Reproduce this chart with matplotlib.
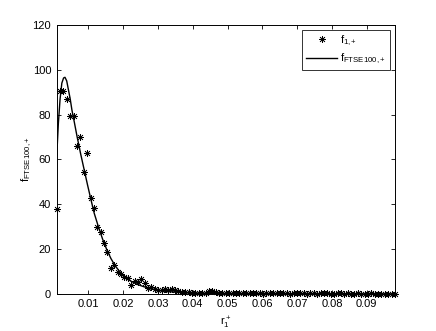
import matplotlib
matplotlib.use("Agg")
import matplotlib.pyplot as plt

plt.rcParams['font.family'] = ['Liberation Sans', 'DejaVu Sans']
plt.rcParams['mathtext.fontset'] = 'custom'
plt.rcParams['mathtext.rm'] = 'Liberation Sans'
plt.rcParams['mathtext.it'] = 'Liberation Sans'
plt.rcParams['mathtext.default'] = 'rm'

# empirical density points (bin centres)
r_bins = [0.00092, 0.00189, 0.00286, 0.00384, 0.00481, 0.00578, 0.00675, 0.00772, 0.00870, 0.00967,
          0.01064, 0.01161, 0.01258, 0.01356, 0.01453, 0.01550, 0.01647, 0.01744, 0.01842, 0.01939,
          0.02036, 0.02133, 0.02230, 0.02328, 0.02425, 0.02522, 0.02619, 0.02716, 0.02814, 0.02911,
          0.03008, 0.03105, 0.03202, 0.03300, 0.03397, 0.03494, 0.03591, 0.03688, 0.03786, 0.03883,
          0.03980, 0.04077, 0.04174, 0.04272, 0.04369, 0.04466, 0.04563, 0.04660, 0.04758, 0.04855,
          0.04952, 0.05049, 0.05146, 0.05244, 0.05341, 0.05438, 0.05535, 0.05632, 0.05730, 0.05827,
          0.05924, 0.06021, 0.06118, 0.06216, 0.06313, 0.06410, 0.06507, 0.06604, 0.06702, 0.06799,
          0.06896, 0.06993, 0.07090, 0.07188, 0.07285, 0.07382, 0.07479, 0.07576, 0.07674, 0.07771,
          0.07868, 0.07965, 0.08062, 0.08160, 0.08257, 0.08354, 0.08451, 0.08548, 0.08646, 0.08743,
          0.08840, 0.08937, 0.09034, 0.09132, 0.09229, 0.09326, 0.09423, 0.09520, 0.09618, 0.09715,
          0.09812]

f1_vals = [37.7, 90.6, 90.6, 86.9, 79.5, 79.5, 66.1, 70.2, 54.4, 62.8,
           42.6, 38.2, 30.0, 27.8, 22.9, 18.9, 11.5, 12.9, 10.0, 9.0,
           7.5, 7.0, 3.8, 5.8, 5.5, 6.8, 4.8, 2.6, 3.3, 2.1,
           1.8, 1.6, 2.4, 1.8, 2.0, 1.7, 1.2, 1.0, 0.9, 0.8,
           0.6, 0.5, 0.3, 0.6, 0.4, 1.2, 1.5, 0.8, 0.4, 0.3,
           0.5, 0.2, 0.4, 0.6, 0.3, 0.2, 0.4, 0.3, 0.5, 0.2,
           0.3, 0.1, 0.4, 0.2, 0.3, 0.2, 0.5, 0.6, 0.2, 0.1,
           0.3, 0.2, 0.2, 0.4, 0.1, 0.3, 0.2, 0.1, 0.2, 0.3,
           0.2, 0.1, 0.1, 0.2, 0.3, 0.1, 0.2, 0.1, 0.1, 0.2,
           0.1, 0.0, 0.1, 0.2, 0.1, 0.1, 0.0, 0.1, 0.1, 0.0,
           0.1]

# fitted density curve
fit_r = [0.00092, 0.0014, 0.0019, 0.0024, 0.0029, 0.0033, 0.0038, 0.0043, 0.0048, 0.0053,
         0.0060, 0.0068, 0.0078, 0.0088, 0.0098, 0.0107, 0.0117, 0.0129, 0.0141, 0.0153,
         0.0165, 0.0177, 0.0190, 0.0205, 0.0220, 0.0240, 0.0260, 0.0280, 0.0300, 0.0325,
         0.0350, 0.0380, 0.0420, 0.0470, 0.0550, 0.0650, 0.0800, 0.09812]
fit_f = [61.0, 76.0, 87.0, 94.0, 96.3, 96.6, 95.0, 91.0, 87.0, 82.0,
         76.5, 70.0, 62.5, 55.5, 48.5, 42.5, 36.0, 30.0, 24.5, 19.8,
         15.8, 12.6, 10.0, 7.6, 5.9, 4.3, 3.2, 2.3, 1.6, 1.1,
         0.8, 0.5, 0.3, 0.15, 0.06, 0.02, 0.0, 0.0]

x_ticks = [0.01, 0.02, 0.03, 0.04, 0.05, 0.06, 0.07, 0.08, 0.09]
x_ticklabels = ['0.01', '0.02', '0.03', '0.04', '0.05', '0.06', '0.07', '0.08', '0.09']
y_ticks = [0, 20, 40, 60, 80, 100, 120]

fig = plt.figure(figsize=(4.36, 3.31), dpi=100)
ax = fig.add_axes([0.13, 0.112, 0.776, 0.813])

ax.plot(r_bins, f1_vals, linestyle='none', marker=(8, 2, 0), markersize=5,
        markeredgewidth=0.5, color='black', label=r'$f_{1{,}+}$', clip_on=False, zorder=3)
ax.plot(fit_r, fit_f, color='black', linewidth=1.0, label=r'$f_{FTSE100{,}+}$', zorder=2)

ax.set_xlim(r_bins[0], r_bins[-1])
ax.set_ylim(0, 120)
ax.set_xticks(x_ticks)
ax.set_xticklabels(x_ticklabels)
ax.set_yticks(y_ticks)
ax.tick_params(direction='in', length=3, width=0.6, top=True, right=True,
               labelsize=8, pad=4)
for s in ax.spines.values():
    s.set_linewidth(0.7)

ax.set_xlabel(r'$r_1^+$', fontsize=8, labelpad=4)
ax.set_ylabel(r'$f_{FTSE100{,}+}$', fontsize=8, labelpad=-1)

leg = ax.legend(loc='upper right', fontsize=8, frameon=True, fancybox=False,
                edgecolor='black', borderaxespad=0.45, handlelength=2.8,
                handletextpad=0.3, borderpad=0.35, labelspacing=0.35)
leg.get_frame().set_linewidth(0.7)

fig.savefig('out.png', dpi=100)
